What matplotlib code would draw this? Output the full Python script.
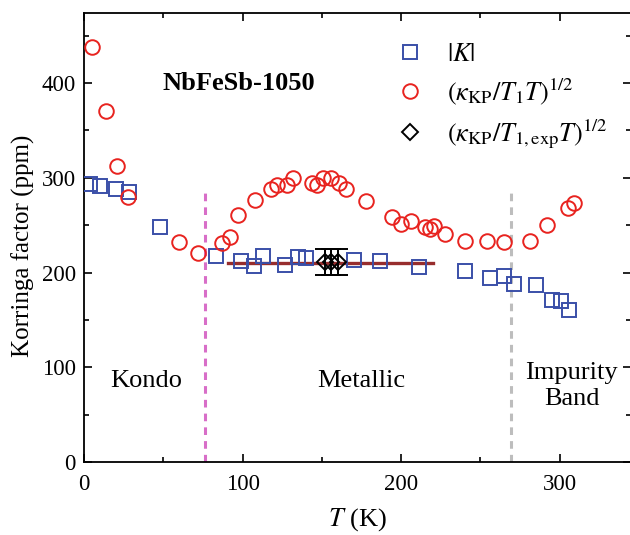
import numpy as np
import matplotlib
matplotlib.use('Agg')
import matplotlib.pyplot as plt

plt.rcParams['font.family'] = ['Liberation Serif', 'DejaVu Serif']
plt.rcParams['mathtext.fontset'] = 'stix'

# |K| (blue squares)
k_T = [4, 10, 20, 28.5, 48, 83.5, 99, 107, 113, 127, 135, 140, 170, 187, 211,
       240, 256, 265, 271, 285, 295, 301, 306]
k_val = [294, 291, 288, 285, 248, 217, 212, 207, 217, 208, 216, 215, 213, 212, 206,
         202, 194, 196, 188, 187, 171, 170, 160]

# (kappa/T1T)^1/2 (red circles)
r_T = [5, 14, 21, 28, 60, 72, 87, 92, 97, 108, 118, 122, 128, 132, 144, 147, 151,
       156, 161, 165, 178, 194, 200, 206, 215, 218, 221, 228, 240, 254, 265, 281,
       292, 305, 309]
r_val = [438, 371, 313, 280, 232, 221, 231, 238, 261, 277, 288, 292, 292, 300, 295,
         292, 300, 300, 295, 288, 276, 259, 251, 254, 248, 246, 249, 241, 233, 233,
         232, 233, 250, 268, 273]

# (kappa/T1,exp T)^1/2 (black diamonds)
d_T = [152, 156, 160]
d_val = [211, 211, 211]
d_err = [14, 14, 14]

# average line in the metallic range
fit_T = [91, 220]
fit_val = [210, 210]

kondo_T = 76.5
impurity_T = 269.5

fig = plt.figure(figsize=(6.3, 5.35), dpi=100)
ax = fig.add_axes([84/630, 1-462/535, 547/630, 449/535])

ax.plot(fit_T, fit_val, color='#8c1616', lw=2.4, alpha=0.9, zorder=2)
ax.plot([kondo_T, kondo_T], [0, 285], ls=(0, (2.5, 2)), color='#d86ec8', lw=2.2, zorder=1)
ax.plot([impurity_T, impurity_T], [0, 285], ls=(0, (2.5, 2)), color='#bdbdbd', lw=2.2, zorder=1)

ax.plot(k_T, k_val, 's', ms=9.5, mfc='none', mec='#3a4fa8', mew=1.4, ls='none',
        label=r'$|K|$', zorder=3)
ax.plot(r_T, r_val, 'o', ms=10.5, mfc='none', mec='#e8231f', mew=1.4, ls='none',
        label=r'$(\kappa_{\rm KP}/T_1T)^{1/2}$', zorder=3)
ax.errorbar(d_T, d_val, yerr=d_err, fmt='D', ms=8.5, mfc='none', mec='black', mew=1.4,
            ecolor='black', elinewidth=1.4, capsize=7, capthick=1.4,
            label=r'$(\kappa_{\rm KP}/T_{1,\rm exp}T)^{1/2}$', zorder=4)

ax.set_xlim(0, 345)
ax.set_ylim(0, 474)
ax.set_xticks([0, 100, 200, 300])
ax.set_yticks([0, 100, 200, 300, 400])
ax.set_xticks([50, 150, 250], minor=True)
ax.set_yticks([50, 150, 250, 350, 450], minor=True)
ax.tick_params(which='both', direction='in', top=True, right=True, labelsize=16.5, width=1.2)
ax.tick_params(which='major', length=6)
ax.tick_params(which='minor', length=3.5)
ax.tick_params(axis='x', which='major', pad=9)
ax.tick_params(axis='y', which='major', pad=6)
for s in ax.spines.values():
    s.set_linewidth(1.3)

ax.set_xlabel(r'$T$ (K)', fontsize=19, labelpad=8)
ax.set_ylabel('Korringa factor (ppm)', fontsize=18)
ax.yaxis.set_label_coords(-0.09, 0.481)

ax.text(97.5, 400, 'NbFeSb-1050', fontsize=19, fontweight='bold', ha='center', va='center')
ax.text(39, 86, 'Kondo', fontsize=19, ha='center', va='center')
ax.text(175, 86, 'Metallic', fontsize=19, ha='center', va='center')
ax.text(307.5, 80, 'Impurity\nBand', fontsize=19, ha='center', va='center', linespacing=1.25)

handles, labels = ax.get_legend_handles_labels()
handles[2] = ax.plot([], [], 'D', ms=8, mfc='none', mec='black', mew=1.4)[0]
ax.legend(handles, labels, loc='upper left', bbox_to_anchor=(0.524, 0.987), frameon=False,
          fontsize=19, handletextpad=0.8, labelspacing=0.4, handlelength=1.2)

fig.savefig('out.png', dpi=100)
